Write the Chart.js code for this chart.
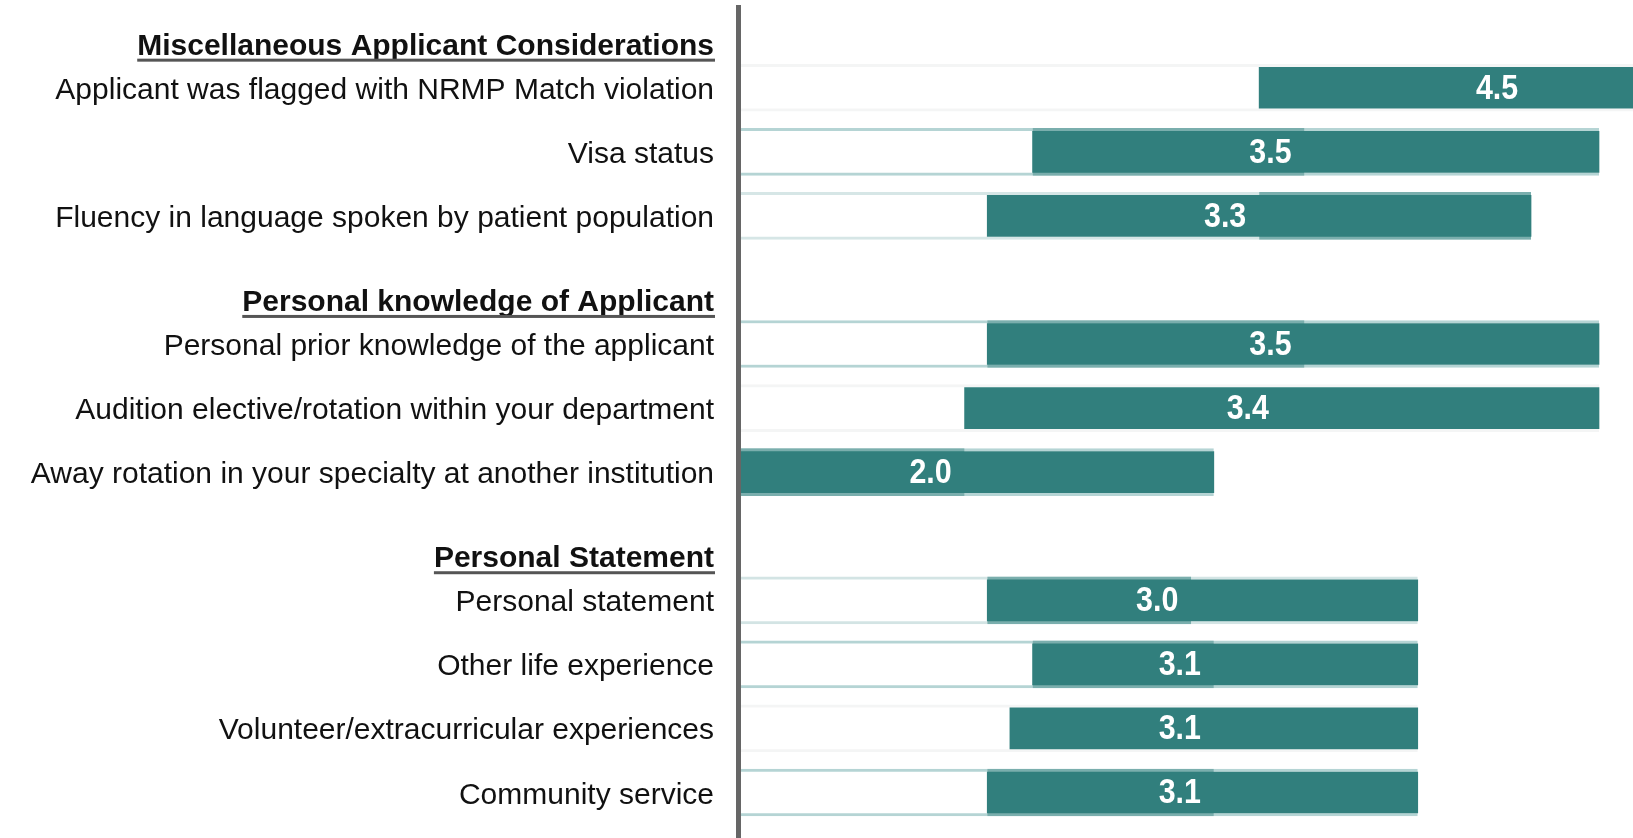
<!DOCTYPE html>
<html>
<head>
<meta charset="utf-8">
<title>Applicant Considerations</title>
<script src="https://cdn.jsdelivr.net/npm/chart.js@4.4.1/dist/chart.umd.min.js"></script>
<style>
  html, body { margin: 0; padding: 0; background: #ffffff; overflow: hidden; }
  #wrap { position: relative; width: 1633px; height: 838px; }
  canvas { display: block; }
</style>
</head>
<body>
<div id="wrap"><canvas id="chart" width="1633" height="838"></canvas></div>
<script>
// Rows top to bottom; section headers have no bar
const rowLabels = [
  'Miscellaneous Applicant Considerations',
  'Applicant was flagged with NRMP Match violation',
  'Visa status',
  'Fluency in language spoken by patient population',
  'Personal knowledge of Applicant',
  'Personal prior knowledge of the applicant',
  'Audition elective/rotation within your department',
  'Away rotation in your specialty at another institution',
  'Personal Statement',
  'Personal statement',
  'Other life experience',
  'Volunteer/extracurricular experiences',
  'Community service',
];
const isHeader = [true, false, false, false, true, false, false, false, true, false, false, false, false];

// dark bar range (low / high) and the mean score printed on it
const rangeLow  = [null, 3.45, 2.45, 2.25, null, 2.25, 2.15, 1.15, null, 2.25, 2.45, 2.35, 2.25];
const rangeHigh = [null, 5.2, 4.95, 4.65, null, 4.95, 4.95, 3.25, null, 4.15, 4.15, 4.15, 4.15];
const meanScore = [null, 4.5, 3.5, 3.3, null, 3.5, 3.4, 2.0, null, 3.0, 3.1, 3.1, 3.1];

// middle band behind the dark bar
const bandLow  = [null, null, 2.45, 3.45, null, 2.25, null, 1.15, null, 2.25, 2.45, null, 2.25];
const bandHigh = [null, null, 3.65, 4.65, null, 3.65, null, 2.15, null, 3.15, 3.25, null, 3.25];

const X_MIN = 1.15;
const X_MAX = 5.1;

// edge shade of the background bar in each row (style only)
const backShade = [null, '#f4f5f5', '#b5d4d4', '#d6e6e6', null, '#b5d4d4', '#f4f5f5', '#b5d4d4', null, '#d3e4e4', '#b5d4d4', '#f4f5f5', '#b5d4d4'];

const TEAL = '#317f7d';
const FONT = "'Liberation Sans', Arial, sans-serif";

const barRows = rowLabels.map((_, i) => i).filter(i => rangeLow[i] !== null);
const bandRows = barRows.filter(i => bandLow[i] !== null);

const rowTextPlugin = {
  id: 'rowText',
  afterDraw(chart) {
    const { ctx, scales: { y } } = chart;
    const right = 714;
    ctx.save();
    ctx.textAlign = 'right';
    ctx.textBaseline = 'alphabetic';
    rowLabels.forEach((label, i) => {
      const py = y.getPixelForValue(i);
      if (isHeader[i]) {
        ctx.font = `bold 30px ${FONT}`;
        ctx.fillStyle = '#111111';
        const base = py + 31;
        ctx.fillText(label, right, base);
        const w = ctx.measureText(label).width;
        ctx.fillStyle = '#555555';
        ctx.fillRect(right - w, base + 4, w + 1, 3);
      } else {
        ctx.font = `30px ${FONT}`;
        ctx.fillStyle = '#111111';
        ctx.fillText(label, right, py + 11);
      }
    });
    ctx.restore();
  }
};

const valueLabelPlugin = {
  id: 'valueLabels',
  afterDatasetsDraw(chart) {
    const { ctx, scales: { x, y } } = chart;
    ctx.save();
    ctx.font = `bold 32px ${FONT}`;
    ctx.fillStyle = '#ffffff';
    ctx.textAlign = 'center';
    ctx.textBaseline = 'middle';
    barRows.forEach(i => {
      const px = x.getPixelForValue(meanScore[i]);
      const py = y.getPixelForValue(i);
      ctx.save();
      ctx.translate(px, py + 1);
      ctx.scale(0.95, 1.12);
      ctx.fillText(meanScore[i].toFixed(1), 0, 0);
      ctx.restore();
    });
    ctx.restore();
  }
};

const edgeOnly = { top: 3, bottom: 3, left: 0, right: 0 };

new Chart(document.getElementById('chart'), {
  type: 'bar',
  data: {
    datasets: [
      {
        label: 'Range',
        data: barRows.map(i => ({ y: i, x: [rangeLow[i], rangeHigh[i]] })),
        backgroundColor: TEAL,
        barThickness: 41,
        grouped: false,
        order: 0,
      },
      {
        label: 'Band',
        data: bandRows.map(i => ({ y: i, x: [bandLow[i], bandHigh[i]] })),
        backgroundColor: 'rgba(0,0,0,0)',
        borderColor: '#7aaead',
        borderWidth: edgeOnly,
        borderSkipped: false,
        barThickness: 47,
        grouped: false,
        order: 1,
      },
      {
        label: 'Back',
        data: barRows.map(i => ({ y: i, x: [X_MIN, rangeHigh[i]] })),
        backgroundColor: '#ffffff',
        borderColor: barRows.map(i => backShade[i]),
        borderWidth: edgeOnly,
        borderSkipped: false,
        barThickness: 47,
        grouped: false,
        order: 2,
      },
    ],
  },
  options: {
    indexAxis: 'y',
    responsive: false,
    animation: false,
    events: [],
    layout: { padding: { left: 738, top: 7, right: 0, bottom: 0 } },
    plugins: {
      legend: { display: false },
      tooltip: { enabled: false },
    },
    scales: {
      x: {
        type: 'linear',
        min: X_MIN,
        max: X_MAX,
        display: false,
      },
      y: {
        type: 'linear',
        reverse: true,
        offset: false,
        min: -0.26,
        max: 12.71,
        grid: { display: false },
        ticks: { display: false },
        border: { display: true, color: '#666666', width: 5, z: 1 },
        afterFit: (scale) => { scale.width = 0; },
      },
    },
  },
  plugins: [rowTextPlugin, valueLabelPlugin],
});
</script>
</body>
</html>
